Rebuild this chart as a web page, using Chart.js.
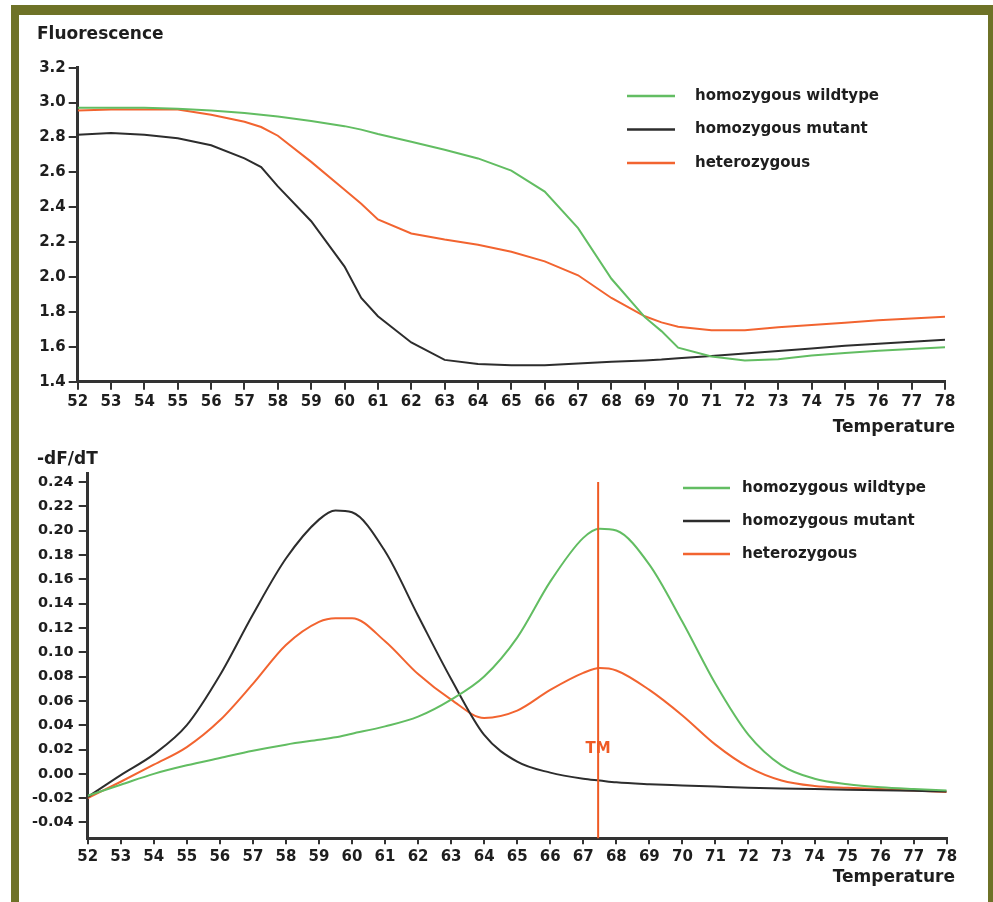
<!DOCTYPE html>
<html>
<head>
<meta charset="utf-8">
<script src="https://cdn.jsdelivr.net/npm/chart.js@4.4.1/dist/chart.umd.min.js"></script>
<style>
  html, body { margin: 0; padding: 0; background: #fff; }
  body { width: 993px; height: 902px; position: relative; overflow: hidden; }
  .frame {
    position: absolute; left: 11px; top: 5px; width: 990px; height: 920px;
    box-sizing: border-box; border-style: solid; border-color: #6e7227;
    border-width: 10px 13px 0 8px;
  }
  canvas { position: absolute; left: 20px; }
  #meltChart { top: 15px; }
  #derivChart { top: 445px; }
</style>
</head>
<body>
<div class="frame"></div>
<canvas id="meltChart" width="968" height="430"></canvas>
<canvas id="derivChart" width="968" height="457"></canvas>
<script>
// ---- Melting curve (Fluorescence) ----
const meltTemps = [52, 53, 54, 55, 56, 57, 57.5, 58, 59, 60, 60.5, 61, 62, 63, 64, 65, 66, 67, 68, 69, 69.5, 70, 71, 72, 73, 74, 75, 76, 77, 78];
const meltWildtype = [2.97, 2.97, 2.97, 2.965, 2.955, 2.94, 2.93, 2.92, 2.895, 2.865, 2.845, 2.82, 2.775, 2.73, 2.68, 2.61, 2.49, 2.28, 1.99, 1.77, 1.69, 1.595, 1.545, 1.522, 1.529, 1.55, 1.565, 1.578, 1.588, 1.598];
const meltMutant = [2.815, 2.825, 2.815, 2.795, 2.755, 2.68, 2.63, 2.52, 2.32, 2.06, 1.88, 1.775, 1.625, 1.525, 1.502, 1.495, 1.495, 1.505, 1.515, 1.522, 1.527, 1.535, 1.548, 1.562, 1.576, 1.59, 1.606, 1.617, 1.629, 1.641];
const meltHetero = [2.955, 2.96, 2.96, 2.96, 2.93, 2.89, 2.86, 2.81, 2.66, 2.5, 2.42, 2.33, 2.25, 2.215, 2.185, 2.145, 2.09, 2.01, 1.88, 1.775, 1.74, 1.715, 1.695, 1.695, 1.712, 1.725, 1.738, 1.752, 1.762, 1.772];
const meltYTicks = [1.4, 1.6, 1.8, 2.0, 2.2, 2.4, 2.6, 2.8, 3.0, 3.2];

// ---- Derivative (-dF/dT) ----
const derivTemps = [52, 53, 54, 55, 56, 57, 58, 59, 59.5, 60, 61, 62, 63, 64, 65, 66, 67, 67.5, 68, 69, 70, 71, 72, 73, 74, 75, 76, 77, 78];
const derivWildtype = [-0.018, -0.009, 0.0, 0.007, 0.013, 0.019, 0.024, 0.028, 0.03, 0.033, 0.039, 0.047, 0.061, 0.08, 0.112, 0.158, 0.194, 0.2015, 0.2, 0.172, 0.125, 0.074, 0.032, 0.007, -0.004, -0.0085, -0.011, -0.0125, -0.0137];
const derivMutant = [-0.019, -0.001, 0.016, 0.04, 0.081, 0.131, 0.177, 0.209, 0.2165, 0.215, 0.183, 0.13, 0.078, 0.032, 0.01, 0.001, -0.004, -0.0055, -0.007, -0.0085, -0.0095, -0.0105, -0.0115, -0.012, -0.0125, -0.013, -0.0135, -0.014, -0.0145];
const derivHetero = [-0.02, -0.0065, 0.0075, 0.022, 0.044, 0.074, 0.106, 0.125, 0.128, 0.128, 0.109, 0.082, 0.061, 0.046, 0.052, 0.069, 0.083, 0.087, 0.085, 0.069, 0.048, 0.024, 0.0055, -0.0055, -0.01, -0.0115, -0.0125, -0.0138, -0.015];
const derivYTicks = [-0.04, -0.02, 0.0, 0.02, 0.04, 0.06, 0.08, 0.10, 0.12, 0.14, 0.16, 0.18, 0.20, 0.22, 0.24];
const tmTemp = 67.45;

const tempTicks = [52, 53, 54, 55, 56, 57, 58, 59, 60, 61, 62, 63, 64, 65, 66, 67, 68, 69, 70, 71, 72, 73, 74, 75, 76, 77, 78];
const seriesNames = ['homozygous wildtype', 'homozygous mutant', 'heterozygous'];

const GREEN = '#62bd62', BLACK = '#2d2d2d', ORANGE = '#f26430', AXIS = '#333';
const FONT = 'DejaVu Sans';

Chart.defaults.font.family = FONT;
Chart.defaults.font.weight = 'bold';
Chart.defaults.font.size = 15;
Chart.defaults.color = '#1e1e1e';

const pts = (xs, ys) => xs.map((x, i) => ({ x, y: ys[i] }));
const useTicks = vals => scale => { scale.ticks = vals.map(v => ({ value: v })); };

// quantity name top-left, "Temperature" under the right end of the x axis
const cornerTitles = {
  id: 'cornerTitles',
  afterDraw(chart, args, o) {
    const { ctx } = chart;
    ctx.save();
    ctx.font = `bold 17px "${FONT}"`;
    ctx.fillStyle = '#1e1e1e';
    ctx.textBaseline = 'middle';
    ctx.textAlign = 'left';
    ctx.fillText(o.yText, o.yX, o.yY);
    ctx.textAlign = 'right';
    ctx.fillText('Temperature', o.xRight, o.xY);
    ctx.restore();
  }
};

// legend drawn as a plain stacked list inside the plot
const sideLegend = {
  id: 'sideLegend',
  afterDraw(chart, args, o) {
    const { ctx } = chart;
    ctx.save();
    ctx.font = `bold 15px "${FONT}"`;
    ctx.fillStyle = '#1e1e1e';
    ctx.textBaseline = 'middle';
    chart.data.datasets.forEach((ds, i) => {
      const y = o.y + i * o.gap;
      ctx.strokeStyle = ds.borderColor;
      ctx.lineWidth = 2.5;
      ctx.beginPath(); ctx.moveTo(o.x, y); ctx.lineTo(o.x + o.len, y); ctx.stroke();
      ctx.fillText(ds.label, o.textX, y);
    });
    ctx.restore();
  }
};

// vertical Tm marker
const tmMarker = {
  id: 'tmMarker',
  afterDatasetsDraw(chart, args, o) {
    const { ctx, chartArea, scales: { x, y } } = chart;
    const px = x.getPixelForValue(o.temp);
    ctx.save();
    ctx.strokeStyle = o.color; ctx.lineWidth = 2;
    ctx.beginPath(); ctx.moveTo(px, y.getPixelForValue(o.top)); ctx.lineTo(px, chartArea.bottom); ctx.stroke();
    ctx.fillStyle = o.color;
    ctx.font = `bold 15px "${FONT}"`;
    ctx.textAlign = 'center'; ctx.textBaseline = 'middle';
    ctx.fillText('TM', px, y.getPixelForValue(o.labelAt));
    ctx.restore();
  }
};

const lineSet = (label, data, color, extra) => Object.assign({
  label, data, borderColor: color, backgroundColor: color,
  borderWidth: 2, pointRadius: 0, fill: false
}, extra);

const xAxis = (height, tickLen, pad) => ({
  type: 'linear', min: 52, max: 78,
  afterBuildTicks: useTicks(tempTicks),
  afterFit: s => { s.height = height; },
  ticks: { autoSkip: false, maxRotation: 0, padding: pad, callback: v => String(v) },
  grid: { drawOnChartArea: false, drawTicks: true, tickLength: tickLen, color: AXIS, lineWidth: 2 },
  border: { color: AXIS, width: 3 }
});

// ---- top chart ----
new Chart(document.getElementById('meltChart'), {
  type: 'line',
  data: {
    datasets: [
      lineSet(seriesNames[0], pts(meltTemps, meltWildtype), GREEN, { tension: 0 }),
      lineSet(seriesNames[1], pts(meltTemps, meltMutant), BLACK, { tension: 0 }),
      lineSet(seriesNames[2], pts(meltTemps, meltHetero), ORANGE, { tension: 0 }),
    ]
  },
  options: {
    responsive: false, animation: false,
    layout: { padding: { left: 0, right: 43, top: 52.7, bottom: 0 } },
    plugins: {
      legend: { display: false },
      tooltip: { enabled: false },
      cornerTitles: { yText: 'Fluorescence', yX: 17, yY: 19.5, xRight: 935, xY: 413 },
      sideLegend: { x: 607, y: 81, gap: 33.5, len: 48, textX: 675 }
    },
    scales: {
      x: xAxis(63.3, 8, 3),
      y: {
        min: 1.4, max: 3.2,
        afterBuildTicks: useTicks(meltYTicks),
        afterFit: s => { s.width = 57.7; },
        ticks: { padding: 3, callback: v => v.toFixed(1) },
        grid: { drawOnChartArea: false, drawTicks: true, tickLength: 9, color: AXIS, lineWidth: 2 },
        border: { color: AXIS, width: 3 }
      }
    }
  },
  plugins: [cornerTitles, sideLegend]
});

// ---- bottom chart ----
new Chart(document.getElementById('derivChart'), {
  type: 'line',
  data: {
    datasets: [
      lineSet(seriesNames[0], pts(derivTemps, derivWildtype), GREEN, { cubicInterpolationMode: 'monotone' }),
      lineSet(seriesNames[1], pts(derivTemps, derivMutant), BLACK, { cubicInterpolationMode: 'monotone' }),
      lineSet(seriesNames[2], pts(derivTemps, derivHetero), ORANGE, { cubicInterpolationMode: 'monotone' }),
    ]
  },
  options: {
    responsive: false, animation: false,
    layout: { padding: { left: 0, right: 41.3, top: 28.4, bottom: 0 } },
    plugins: {
      legend: { display: false },
      tooltip: { enabled: false },
      cornerTitles: { yText: '-dF/dT', yX: 17, yY: 15, xRight: 935, xY: 433 },
      sideLegend: { x: 663, y: 43, gap: 33, len: 47, textX: 722 },
      tmMarker: { temp: tmTemp, top: 0.24, labelAt: 0.02, color: '#ef5a24' }
    },
    scales: {
      x: xAxis(63.7, 6, 4),
      y: {
        min: -0.053, max: 0.247,
        afterBuildTicks: useTicks(derivYTicks),
        afterFit: s => { s.width = 67.7; },
        ticks: { padding: 5, font: { size: 14.5 }, callback: v => v.toFixed(2) },
        grid: { drawOnChartArea: false, drawTicks: true, tickLength: 9, color: AXIS, lineWidth: 2 },
        border: { color: AXIS, width: 3 }
      }
    }
  },
  plugins: [cornerTitles, sideLegend, tmMarker]
});
</script>
</body>
</html>
